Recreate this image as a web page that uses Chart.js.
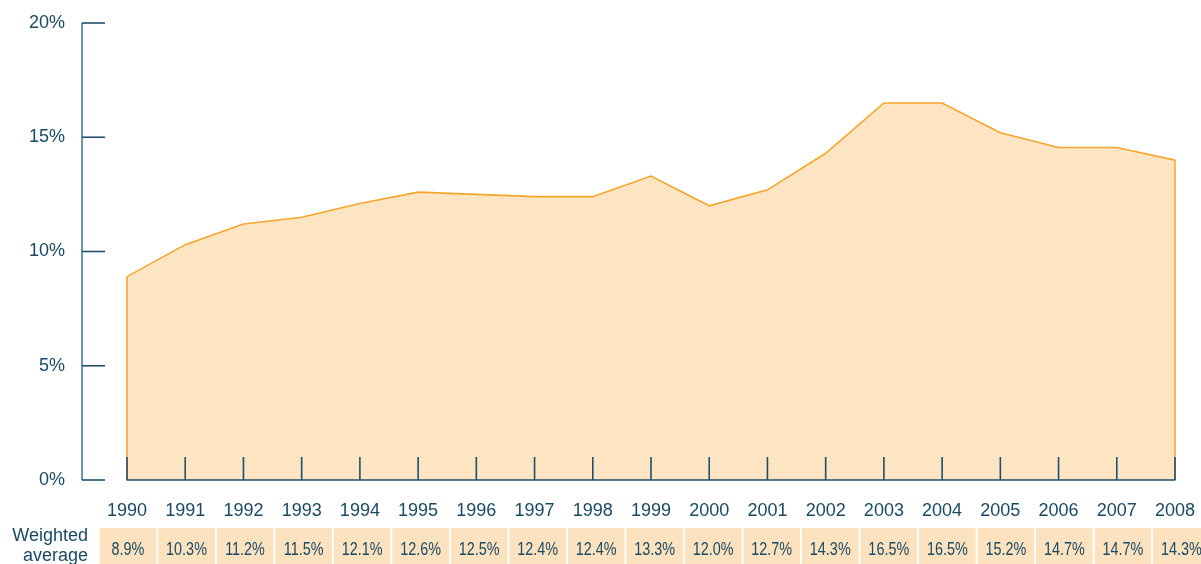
<!DOCTYPE html>
<html>
<head>
<meta charset="utf-8">
<script src="https://cdn.jsdelivr.net/npm/chart.js@4/dist/chart.umd.min.js"></script>
<style>
  html, body { margin: 0; padding: 0; background: #fff; }
  #wrap { width: 1201px; height: 564px; }
</style>
</head>
<body>
<div id="wrap"><canvas id="chart" width="1201" height="564"></canvas></div>
<script>
const years = ['1990', '1991', '1992', '1993', '1994', '1995', '1996', '1997', '1998', '1999',
               '2000', '2001', '2002', '2003', '2004', '2005', '2006', '2007', '2008'];
const weightedAverage = [8.9, 10.3, 11.2, 11.5, 12.1, 12.6, 12.5, 12.4, 12.4, 13.3,
                         12.0, 12.7, 14.3, 16.5, 16.5, 15.2, 14.55, 14.55, 14.0];
const tableLabels = ['8.9%', '10.3%', '11.2%', '11.5%', '12.1%', '12.6%', '12.5%', '12.4%', '12.4%', '13.3%',
                     '12.0%', '12.7%', '14.3%', '16.5%', '16.5%', '15.2%', '14.7%', '14.7%', '14.3%'];
const yTicks = [0, 5, 10, 15, 20];
const rowTitle = ['Weighted', 'average'];

const FONT = '"Liberation Sans", Arial, sans-serif';
const TEXT = '#1a4a63';

// axes, tick marks and the value row are drawn by hand, positions come from the scales
const axesAndTable = {
    id: 'axesAndTable',
    afterDraw(chart) {
        const { ctx, chartArea, scales: { x, y } } = chart;
        const meta = chart.getDatasetMeta(0);
        ctx.save();

        // orange edges of the area
        ctx.strokeStyle = '#f6a52c';
        ctx.lineWidth = 1.5;
        [meta.data[0], meta.data[meta.data.length - 1]].forEach(p => {
            ctx.beginPath();
            ctx.moveTo(p.x, p.y);
            ctx.lineTo(p.x, y.getPixelForValue(0));
            ctx.stroke();
        });

        // y axis
        const axisX = chartArea.left - 45;
        ctx.strokeStyle = '#4b7c9d';
        ctx.lineWidth = 1.6;
        ctx.beginPath();
        ctx.moveTo(axisX, y.getPixelForValue(yTicks[yTicks.length - 1]));
        ctx.lineTo(axisX, y.getPixelForValue(0));
        ctx.stroke();

        ctx.strokeStyle = '#1f4e69';
        ctx.fillStyle = TEXT;
        ctx.font = '18px ' + FONT;
        ctx.textAlign = 'right';
        ctx.textBaseline = 'middle';
        yTicks.forEach(v => {
            const py = y.getPixelForValue(v);
            ctx.beginPath();
            ctx.moveTo(axisX, py);
            ctx.lineTo(axisX + 23, py);
            ctx.stroke();
            ctx.fillText(v + '%', axisX - 17, py);
        });

        // x axis line and tick marks
        const base = y.getPixelForValue(0);
        ctx.beginPath();
        ctx.moveTo(x.getPixelForValue(0) - 0.5, base);
        ctx.lineTo(x.getPixelForValue(years.length - 1) + 0.5, base);
        ctx.stroke();

        const step = x.getPixelForValue(1) - x.getPixelForValue(0);
        ctx.textAlign = 'center';
        years.forEach((yr, i) => {
            const px = x.getPixelForValue(i);
            ctx.beginPath();
            ctx.moveTo(px, base - 23);
            ctx.lineTo(px, base);
            ctx.stroke();
            ctx.fillStyle = TEXT;
            ctx.font = '18px ' + FONT;
            ctx.fillText(yr, px, base + 31);

            // value row
            const cx = px + 1 + i * 0.3;
            ctx.fillStyle = '#fde2bf';
            ctx.fillRect(cx - step / 2 + 0.8, base + 48, step - 1.6, 40);
            ctx.fillStyle = TEXT;
            ctx.save();
            ctx.translate(cx, base + 70);
            ctx.scale(0.8, 1);
            ctx.font = '18px ' + FONT;
            ctx.fillText(tableLabels[i], 0, 0);
            ctx.restore();
        });

        ctx.font = '18px ' + FONT;
        ctx.textAlign = 'right';
        ctx.fillText(rowTitle[0], axisX + 6, base + 56);
        ctx.fillText(rowTitle[1], axisX + 6, base + 76);

        ctx.restore();
    }
};

const chart = new Chart(document.getElementById('chart').getContext('2d'), {
    type: 'line',
    data: {
        labels: years,
        datasets: [{
            data: weightedAverage,
            borderColor: '#f6a52c',
            borderWidth: 1.6,
            backgroundColor: '#fde4c2',
            fill: 'origin',
            pointRadius: 0,
            tension: 0
        }]
    },
    options: {
        responsive: false,
        animation: false,
        layout: { padding: { left: 127, right: 26, top: 23, bottom: 84 } },
        scales: {
            x: { display: false, offset: false },
            y: { display: false, min: 0, max: 20 }
        },
        plugins: {
            legend: { display: false },
            tooltip: { enabled: false }
        }
    },
    plugins: [axesAndTable]
});
</script>
</body>
</html>
